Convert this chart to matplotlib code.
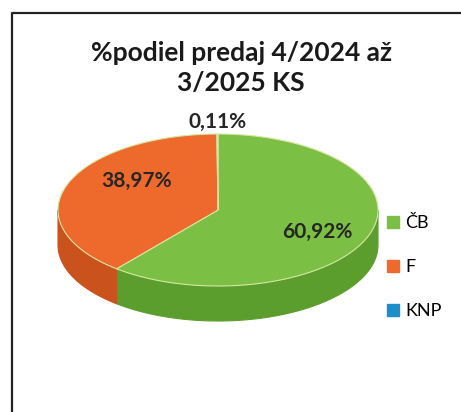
import numpy as np
import matplotlib
matplotlib.use('Agg')
import matplotlib.pyplot as plt
from matplotlib.patches import Polygon, Patch

# data
labels = ['ČB', 'F', 'KNP']
shares = [60.92, 38.97, 0.11]
label_txt = ['60,92%', '38,97%', '0,11%']
top_colors = ['#7cbf45', '#ee6a2c', '#1a8fc9']
side_colors = ['#5c9e2e', '#c9521d', '#14709e']
title = '%podiel predaj 4/2024 až\n3/2025 KS'

W, H = 461, 412
CX, CY = 218, 210      # centre of the top face (pixels)
RX, RY = 160, 76       # radii of the top face
DEPTH = 35             # thickness of the pie

plt.rcParams['font.family'] = ['Lato', 'DejaVu Sans']

fig = plt.figure(figsize=(W / 100, H / 100), dpi=100)
ax = fig.add_axes([0, 0, 1, 1])
ax.set_xlim(0, W)
ax.set_ylim(H, 0)
ax.axis('off')

# frame (only left and top edges are in the scan)
ax.plot([12, 12, W], [H, 13, 13], color='#222222', lw=1.6)


def rim(t):
    return CX + RX * np.cos(t), CY - RY * np.sin(t)


fracs = np.array(shares) / sum(shares)
starts = np.pi / 2 - 2 * np.pi * np.concatenate([[0], np.cumsum(fracs)[:-1]])
ends = starts - 2 * np.pi * fracs

# outer walls (front half only)
for s, e, col in zip(starts, ends, side_colors):
    t = np.linspace(s, e, 400)
    ts = np.mod(t, 2 * np.pi)
    m = (ts > np.pi) & (ts < 2 * np.pi)
    if not m.any():
        continue
    x, y = rim(t[m])
    px = np.concatenate([x, x[::-1]])
    py = np.concatenate([y, y[::-1] + DEPTH])
    ax.add_patch(Polygon(np.column_stack([px, py]), closed=True,
                         fc=col, ec=col, lw=0.8))

# top faces
for s, e, col in zip(starts, ends, top_colors):
    t = np.linspace(s, e, 400)
    x, y = rim(t)
    px = np.concatenate([[CX], x])
    py = np.concatenate([[CY], y])
    ax.add_patch(Polygon(np.column_stack([px, py]), closed=True,
                         fc=col, ec='#d8e6a0', lw=0.8))

# data labels
lab_pos = [(317, 232), (137, 181), (218, 122)]
for (lx, ly), txt in zip(lab_pos, label_txt):
    ax.text(lx, ly, txt, ha='center', va='center', fontsize=15,
            fontweight='bold', color='#262626')

ax.text(241, 68, title, ha='center', va='center', fontsize=19,
        fontweight='bold', color='#1a1a1a', linespacing=1.3)

handles = [Patch(fc=c, ec=c) for c in top_colors]
ax.legend(handles, labels, loc='upper left', bbox_to_anchor=(380 / W, 1 - 208 / H),
          frameon=False, fontsize=13, handlelength=0.65, handleheight=0.65,
          handletextpad=0.35, labelspacing=1.55, borderaxespad=0)

fig.savefig('out.png', dpi=100)
